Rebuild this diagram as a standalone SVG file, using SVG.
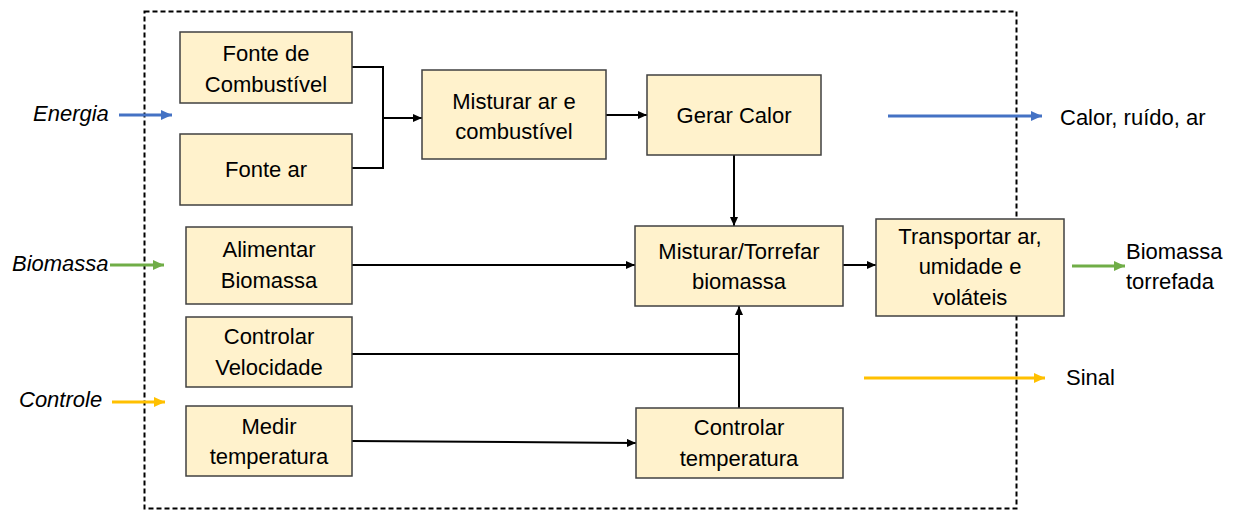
<svg xmlns="http://www.w3.org/2000/svg" width="1234" height="511" viewBox="0 0 1234 511">
<style>
.box{fill:#FFF2CC;stroke:#404040;stroke-width:1.5}
.t{font-family:"Liberation Sans",Arial,sans-serif;font-size:22px;fill:#000;text-anchor:middle}
.l{font-family:"Liberation Sans",Arial,sans-serif;font-size:22px;fill:#000}
.i{font-style:italic}
.c{fill:none;stroke:#000;stroke-width:2}
.blue{fill:none;stroke:#4472C4;stroke-width:3}
.green{fill:none;stroke:#70AD47;stroke-width:3}
.yellow{fill:none;stroke:#FFC000;stroke-width:3}
</style>
<defs>
<marker id="ab" markerUnits="userSpaceOnUse" markerWidth="10" markerHeight="8" refX="9" refY="4" orient="auto"><path d="M0,0 L9,4 L0,8 Z" fill="#000"/></marker>
<marker id="abl" markerUnits="userSpaceOnUse" markerWidth="12" markerHeight="10" refX="11" refY="5" orient="auto"><path d="M0,0 L11,5 L0,10 Z" fill="#4472C4"/></marker>
<marker id="agr" markerUnits="userSpaceOnUse" markerWidth="12" markerHeight="10" refX="11" refY="5" orient="auto"><path d="M0,0 L11,5 L0,10 Z" fill="#70AD47"/></marker>
<marker id="aye" markerUnits="userSpaceOnUse" markerWidth="12" markerHeight="10" refX="11" refY="5" orient="auto"><path d="M0,0 L11,5 L0,10 Z" fill="#FFC000"/></marker>
</defs>
<rect width="1234" height="511" fill="#fff"/>
<rect id="boundary" x="144.5" y="11.5" width="872" height="497" fill="none" stroke="#000" stroke-width="2" stroke-dasharray="5,3"/>

<g id="connectors">
<path class="c" d="M352,67 H383 V168 H352"/>
<path class="c" d="M383,118 H422" marker-end="url(#ab)"/>
<path class="c" d="M606,115 H647" marker-end="url(#ab)"/>
<path class="c" d="M734,155 V226" marker-end="url(#ab)"/>
<path class="c" d="M352,265 H635" marker-end="url(#ab)"/>
<path class="c" d="M352,354 H739"/>
<path class="c" d="M739,408 V306" marker-end="url(#ab)"/>
<path class="c" d="M352,441 L636,443" marker-end="url(#ab)"/>
<path class="c" d="M843,265 H876" marker-end="url(#ab)"/>
<path class="blue" d="M119,115 H172" marker-end="url(#abl)"/>
<path class="blue" d="M888,116 H1042" marker-end="url(#abl)"/>
<path class="green" d="M110,265 H164" marker-end="url(#agr)"/>
<path class="green" d="M1072,266 H1125" marker-end="url(#agr)"/>
<path class="yellow" d="M112,402 H165" marker-end="url(#aye)"/>
<path class="yellow" d="M864,378 H1045" marker-end="url(#aye)"/>
</g>

<g id="n-fonte-combustivel"><rect class="box" x="180" y="32" width="172" height="71"/><text class="t" x="266" y="61">Fonte de</text><text class="t" x="266" y="92">Combustível</text></g>
<g id="n-fonte-ar"><rect class="box" x="180" y="134" width="172" height="71"/><text class="t" x="266" y="177">Fonte ar</text></g>
<g id="n-misturar-ar"><rect class="box" x="422" y="70" width="184" height="89"/><text class="t" x="514" y="109">Misturar ar e</text><text class="t" x="514" y="139">combustível</text></g>
<g id="n-gerar-calor"><rect class="box" x="647" y="75" width="174" height="80"/><text class="t" x="734" y="123">Gerar Calor</text></g>
<g id="n-alimentar"><rect class="box" x="186" y="227" width="166" height="77"/><text class="t" x="269" y="257">Alimentar</text><text class="t" x="269" y="288">Biomassa</text></g>
<g id="n-velocidade"><rect class="box" x="186" y="317" width="166" height="70"/><text class="t" x="269" y="344">Controlar</text><text class="t" x="269" y="375">Velocidade</text></g>
<g id="n-medir"><rect class="box" x="186" y="406" width="166" height="70"/><text class="t" x="269" y="434">Medir</text><text class="t" x="269" y="464">temperatura</text></g>
<g id="n-torrefar"><rect class="box" x="635" y="226" width="208" height="80"/><text class="t" x="739" y="259">Misturar/Torrefar</text><text class="t" x="739" y="289">biomassa</text></g>
<g id="n-transportar"><rect class="box" x="876" y="219" width="188" height="97"/><text class="t" x="970" y="244">Transportar ar,</text><text class="t" x="970" y="274">umidade e</text><text class="t" x="970" y="305">voláteis</text></g>
<g id="n-controlar-temp"><rect class="box" x="636" y="408" width="207" height="70"/><text class="t" x="739" y="435">Controlar</text><text class="t" x="739" y="466">temperatura</text></g>

<g id="labels">
<text class="l i" x="33" y="121">Energia</text>
<text class="l i" x="12" y="271">Biomassa</text>
<text class="l i" x="19" y="407">Controle</text>
<text class="l" x="1060" y="125">Calor, ruído, ar</text>
<text class="l" x="1126" y="259">Biomassa</text>
<text class="l" x="1126" y="289">torrefada</text>
<text class="l" x="1066" y="385">Sinal</text>
</g>
</svg>
